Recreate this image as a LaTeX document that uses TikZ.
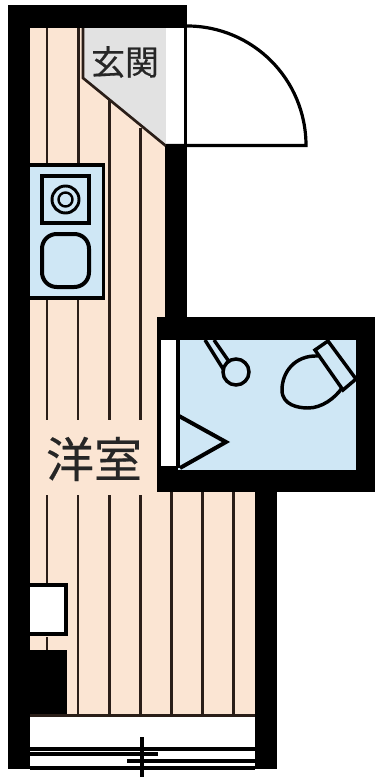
\documentclass[tikz,border=0pt]{standalone}
\usepackage{fontspec}
\newfontfamily\cjk[FakeBold=0.4]{Noto Sans CJK JP}
\definecolor{floorc}{HTML}{FBE5D3}
\definecolor{bluec}{HTML}{CFE7F5}
\definecolor{entc}{HTML}{E2E2E2}
\definecolor{linec}{HTML}{2A1E18}
\tikzset{
  board/.style={draw=linec,line width=1.6pt},
  wall/.style={fill=black,draw=none},
  thick line/.style={draw=black,line width=2.4pt},
  fixture/.style={draw=black,line width=2.6pt},
  label text/.style={font=\cjk,text=black!85,inner sep=0pt}
}
\begin{document}
\begin{tikzpicture}[x=0.75pt,y=-0.75pt]
\useasboundingbox (0,0) rectangle (375,777);
\fill[white] (0,0) rectangle (375,777);
% floor
\fill[floorc] (30,28) rectangle (166,320);
\fill[floorc] (30,320) rectangle (157,492);
\fill[floorc] (30,492) rectangle (255,716);
% boards
\foreach \x/\ya/\yb in {47/28/164,78.5/28/164,109.5/100/317,140.5/128/317,47/298/420,78/298/420,109.5/317/420,140.5/317/420,47/495/585,78/495/716,109.5/495/716,140.5/495/716,171.5/492/716,202.5/492/716,233.5/492/716,47/637/650}
  \draw[board] (\x,\ya) -- (\x,\yb);
% entrance
\fill[entc] (83,28) -- (166,28) -- (166,146) -- (83,78) -- cycle;
\draw[line width=2pt,draw=linec] (83,28) -- (83,78) -- (166,146);
\node[label text,font=\cjk\fontsize{25.5}{25.5}\selectfont] (ent) at (125,62) {玄関};
% door
\fill[white] (166,28) rectangle (185,146);
\draw[thick line] (187,26) .. controls (252.7,26) and (306,79.3) .. (306,145.5) -- (166,145.5);
\draw[line width=2pt] (185.5,28) -- (185.5,146);
% outer walls
\fill[wall] (8,5) rectangle (187,28);
\fill[wall] (8,5) rectangle (30,769);
\fill[wall] (165,146) rectangle (187,318);
\fill[wall] (157,317) rectangle (375,340);
\fill[wall] (356,317) rectangle (375,492);
\fill[wall] (157,466) rectangle (375,492);
\fill[wall] (157,317) rectangle (161,492);
\fill[wall] (255,492) rectangle (277,769);
% bath
\fill[bluec] (178,340) rectangle (356,470);
\fill[white] (161,340) rectangle (176,466);
\draw[line width=3pt] (178,340) -- (178,468);
\fill[wall] (178,470) rectangle (356,492);
\draw[fixture,line width=3pt] (179,416) -- (226,442) -- (180,468);
\draw[fixture] (205,340) -- (225,372);
\draw[fixture] (214,340) -- (230,363);
\draw[fixture,fill=bluec] (236,372) circle (13);
\draw[fixture,fill=bluec] (318,356) .. controls (295,355) and (282,372) .. (282,390) .. controls (282,405) and (298,408) .. (308,408) .. controls (322,408) and (335,398) .. (342,388);
\draw[fixture,fill=bluec] (315,350) -- (328,341) -- (356,379) -- (343,390) -- cycle;
% kitchen
\draw[line width=2.6pt,fill=bluec] (30,165) -- (103.5,165) -- (103.5,298) -- (30,298);
\draw[line width=3pt] (42,176) rectangle (89,223);
\draw[line width=2.2pt] (65.5,199.5) circle (13.5);
\draw[line width=1.8pt] (65.5,199.5) circle (7);
\draw[line width=3pt,rounded corners=11pt] (42,234) rectangle (89,287);
% stove / box
\fill[white] (30,584) rectangle (65,634);
\draw[line width=3pt] (30,585) -- (65.5,585) -- (65.5,634) -- (30,634);
\fill[wall] (30,650) rectangle (67,716);
% window
\fill[white] (30,717) rectangle (255,748);
\draw[line width=2pt,draw=linec] (30,715.5) -- (255,715.5);
\fill[white] (30,748) rectangle (255,767);
\draw[line width=3pt] (30,748.5) -- (255,748.5);
\draw[line width=2.5pt] (30,754) -- (158,754);
\draw[line width=2.5pt] (127,761) -- (255,761);
\draw[line width=3pt] (30,767.5) -- (255,767.5);
\coordinate (wa) at (142,737);
\coordinate (wb) at (142,777);
\draw[line width=2.5pt] (wa) -- (wb);
% label
\node[label text,font=\cjk\fontsize{36}{36}\selectfont] (room) at (94,459) {洋室};
\end{tikzpicture}
\end{document}
